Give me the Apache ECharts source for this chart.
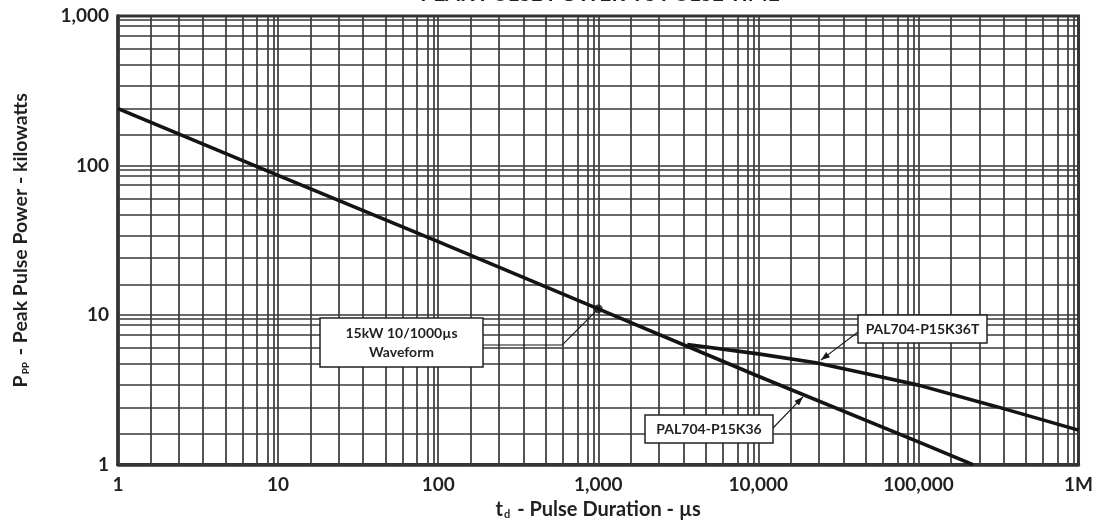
<!DOCTYPE html>
<html><head><meta charset="utf-8">
<script src="https://cdn.jsdelivr.net/npm/echarts@6/dist/echarts.min.js"></script>
<style>html,body{margin:0;padding:0;background:#fff}#c{width:1096px;height:525px}</style>
</head><body><div id="c"></div>
<script>
// ---- data ----
const xTickLabels = ['1', '10', '100', '1,000', '10,000', '100,000', '1M'];
const yTickLabels = ['1', '10', '100', '1,000'];
const gridSubSteps = [1.6, 2.4, 3.4, 4.7, 6.0, 7.4, 8.6, 9.4];   // sub-decade grid lines as read from the paper
const seriesK36 = [[1, 240], [10, 86], [100, 31], [1000, 11], [10000, 3.9], [100000, 1.42], [219000, 1]];
const seriesK36T = [[3600, 6.35], [10000, 5.5], [22900, 4.8], [50000, 4.0], [100000, 3.4], [300000, 2.46], [1000000, 1.7]];
const waveformPoint = [[1000, 11]];
const labelK36 = 'PAL704-P15K36';
const labelK36T = 'PAL704-P15K36T';
const labelWave = '15kW 10/1000µs\nWaveform';
const arrowTipK36 = [19000, 2.84];
const arrowTipK36T = [24600, 5.0];
const titleText = 'PEAK PULSE POWER VS PULSE TIME';

// ---- grid lines (decades + sub steps) ----
const xGridVals = [], yGridVals = [];
for (let d = 0; d < 6; d++) { const b = Math.pow(10, d); gridSubSteps.forEach(s => xGridVals.push(b * s)); xGridVals.push(b * 10); }
for (let d = 0; d < 3; d++) { const b = Math.pow(10, d); gridSubSteps.forEach(s => yGridVals.push(b * s)); if (d < 2) yGridVals.push(b * 10); }

const FONT = 'Lato';
const TXT = '#231f20';
const GRIDC = '#383838';

const chart = echarts.init(document.getElementById('c'), null, {renderer: 'canvas'});
const option = {
  animation: false,
  backgroundColor: '#fff',
  grid: {left: 118, right: 12, top: 16, bottom: 58, show: true, borderColor: '#333', borderWidth: 3, backgroundColor: 'transparent'},
  xAxis: {
    type: 'log', logBase: 10, min: 1, max: 1000000,
    axisLine: {show: true, lineStyle: {color: '#333', width: 3.5}},
    axisTick: {show: false},
    splitLine: {show: false},
    axisLabel: {margin: 11, color: TXT, fontFamily: FONT, fontWeight: 'bold', fontSize: 19,
      formatter: v => xTickLabels[Math.round(Math.log10(v))]},
    name: '{a|t}{s|d}{a| - Pulse Duration - µs}',
    nameLocation: 'middle', nameGap: 32,
    nameTextStyle: {rich: {
      a: {fontFamily: FONT, fontWeight: 'bold', fontSize: 20, color: TXT},
      s: {fontFamily: FONT, fontWeight: 'bold', fontSize: 11, color: TXT, padding: [10, 2, 0, 1]}
    }}
  },
  yAxis: {
    type: 'log', logBase: 10, min: 1, max: 1000,
    axisLine: {show: true, lineStyle: {color: '#333', width: 3.5}},
    axisTick: {show: false},
    splitLine: {show: false},
    axisLabel: {margin: 9, color: TXT, fontFamily: FONT, fontWeight: 'bold', fontSize: 19,
      formatter: v => yTickLabels[Math.round(Math.log10(v))]},
    name: '{a|P}{s|PP}{a| - Peak Pulse Power - kilowatts}',
    nameLocation: 'middle', nameGap: 87,
    nameTextStyle: {rich: {
      a: {fontFamily: FONT, fontWeight: 'bold', fontSize: 19.5, color: TXT},
      s: {fontFamily: FONT, fontWeight: 'bold', fontSize: 10, color: TXT, padding: [10, 2, 0, 1]}
    }}
  },
  series: [
    {
      type: 'line', data: [], z: 1, silent: true,
      markLine: {
        silent: true, symbol: ['none', 'none'], label: {show: false}, animation: false,
        lineStyle: {color: GRIDC, width: 1.7, type: 'solid'},
        emphasis: {disabled: true},
        data: xGridVals.map(v => ({xAxis: v})).concat(yGridVals.map(v => ({yAxis: v})))
      }
    },
    {name: labelK36, type: 'line', data: seriesK36, z: 5, showSymbol: false, symbol: 'none',
      lineStyle: {color: '#141414', width: 3.6}},
    {name: labelK36T, type: 'line', data: seriesK36T, z: 5, showSymbol: false, symbol: 'none',
      lineStyle: {color: '#141414', width: 3.6}},
    {type: 'scatter', data: waveformPoint, z: 6, symbol: 'circle', symbolSize: 9,
      itemStyle: {color: '#141414'}}
  ]
};
chart.setOption(option);

// ---- callouts ----
function px(p) { return chart.convertToPixel({gridIndex: 0}, p); }
const dot = px(waveformPoint[0]);
const tipA = px(arrowTipK36);
const tipB = px(arrowTipK36T);
const boxText = {fontFamily: FONT, fontWeight: 'bold', fontSize: 14, fill: TXT, align: 'center', verticalAlign: 'middle', lineHeight: 19};
function arrowHead(from, to) {
  const ang = Math.atan2(to[1] - from[1], to[0] - from[0]);
  const L = 9, W = 3.2;
  const bx = to[0] - L * Math.cos(ang), by = to[1] - L * Math.sin(ang);
  const nx = -Math.sin(ang) * W, ny = Math.cos(ang) * W;
  return {type: 'polygon', z: 20, shape: {points: [to, [bx + nx, by + ny], [bx - nx, by - ny]]}, style: {fill: '#161616'}};
}
const b1 = {x: 320, y: 318, w: 163, h: 49};
const b2 = {x: 858, y: 315, w: 129, h: 28};
const b3 = {x: 645, y: 415, w: 128, h: 28};
const fromB = [b2.x, b2.y + 17];
const fromA = [b3.x + b3.w, b3.y + 13];
chart.setOption({graphic: [
  {type: 'text', z: 30, style: {text: titleText, x: 600, y: 5, align: 'center', verticalAlign: 'bottom', fontFamily: FONT, fontWeight: 'bold', fontSize: 21, fill: TXT}},
  // waveform callout
  {type: 'polyline', z: 20, shape: {points: [[b1.x + b1.w, b1.y + 27], [dot[0] - 36, b1.y + 27], [dot[0] - 2, dot[1] + 2]]}, style: {stroke: '#161616', lineWidth: 1.1, fill: null}},
  {type: 'rect', z: 21, shape: {x: b1.x, y: b1.y, width: b1.w, height: b1.h}, style: {fill: '#fff', stroke: '#222', lineWidth: 1.5}},
  {type: 'text', z: 22, style: Object.assign({text: labelWave, x: b1.x + b1.w / 2, y: b1.y + b1.h / 2}, boxText)},
  // K36T callout
  {type: 'line', z: 20, shape: {x1: fromB[0], y1: fromB[1], x2: tipB[0], y2: tipB[1]}, style: {stroke: '#161616', lineWidth: 1.1}},
  arrowHead(fromB, tipB),
  {type: 'rect', z: 21, shape: {x: b2.x, y: b2.y, width: b2.w, height: b2.h}, style: {fill: '#fff', stroke: '#222', lineWidth: 1.5}},
  {type: 'text', z: 22, style: Object.assign({text: labelK36T, x: b2.x + b2.w / 2, y: b2.y + b2.h / 2}, boxText)},
  // K36 callout
  {type: 'line', z: 20, shape: {x1: fromA[0], y1: fromA[1], x2: tipA[0], y2: tipA[1]}, style: {stroke: '#161616', lineWidth: 1.1}},
  arrowHead(fromA, tipA),
  {type: 'rect', z: 21, shape: {x: b3.x, y: b3.y, width: b3.w, height: b3.h}, style: {fill: '#fff', stroke: '#222', lineWidth: 1.5}},
  {type: 'text', z: 22, style: Object.assign({text: labelK36, x: b3.x + b3.w / 2, y: b3.y + b3.h / 2}, boxText)}
]});
</script>
</body></html>
